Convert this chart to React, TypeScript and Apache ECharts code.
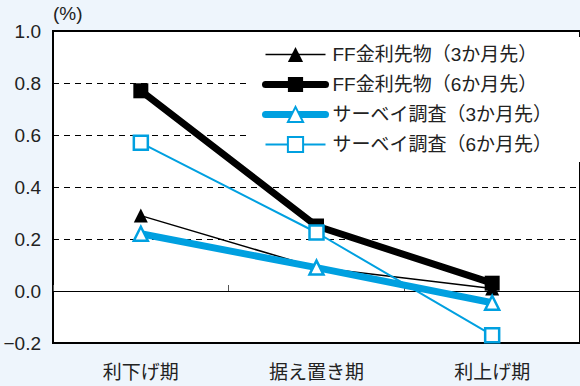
import React, { useEffect, useRef } from "react";
import * as echarts from "echarts";

const categories = ["利下げ期", "据え置き期", "利上げ期"];
const seriesNames = [
  "FF金利先物（3か月先）",
  "FF金利先物（6か月先）",
  "サーベイ調査（3か月先）",
  "サーベイ調査（6か月先）",
];
const ff3 = [0.29, 0.09, 0.01];
const ff6 = [0.77, 0.25, 0.03];
const survey3 = [0.22, 0.09, -0.045];
const survey6 = [0.57, 0.225, -0.17];
const yTicks = { min: -0.2, max: 1.0, interval: 0.2 };

const BLUE = "#00a0e0";
const FONT = "'Liberation Sans', 'Noto Sans CJK JP', sans-serif";

export default function App() {
  const ref = useRef<HTMLDivElement>(null);
  useEffect(() => {
    if (!ref.current) return;
    const chart = echarts.init(ref.current, null, { renderer: "svg" });
    chart.setOption({
      animation: false,
      backgroundColor: "#eef5fc",
      textStyle: { fontFamily: FONT },
      grid: {
        left: 53,
        top: 31,
        right: -3,
        bottom: 43,
        show: true,
        backgroundColor: "#fff",
        borderColor: "#000",
        borderWidth: 2,
      },
      graphic: [
        {
          type: "text",
          left: 53,
          top: 4,
          style: { text: "(%)", font: `19px ${FONT}`, fill: "#222" },
        },
      ],
      legend: {
        left: 250,
        top: 37,
        orient: "vertical",
        padding: [8, 28, 8, 12],
        backgroundColor: "#fff",
        itemWidth: 60,
        itemHeight: 19,
        itemGap: 11,
        textStyle: { fontSize: 19, color: "#222", fontFamily: FONT, padding: [0, 0, 0, 2] },
        data: [
          { name: seriesNames[0], lineStyle: { width: 1.5 } },
          { name: seriesNames[1], lineStyle: { width: 7 } },
          { name: seriesNames[2], lineStyle: { width: 7 }, itemStyle: { borderWidth: 2 } },
          { name: seriesNames[3], lineStyle: { width: 2 }, itemStyle: { borderWidth: 2 } },
        ],
      },
      xAxis: [
        {
          type: "category",
          data: categories,
          boundaryGap: true,
          position: "bottom",
          axisLine: { show: false, onZero: false },
          axisTick: { show: false },
          axisLabel: { fontSize: 19, color: "#222", margin: 20, fontFamily: FONT },
        },
        {
          type: "category",
          data: categories,
          boundaryGap: true,
          position: "bottom",
          axisLine: { show: true, onZero: true, lineStyle: { color: "#000", width: 1 } },
          axisTick: { show: true, inside: true, length: 6, lineStyle: { color: "#555", width: 1 } },
          axisLabel: { show: false },
        },
      ],
      yAxis: {
        type: "value",
        min: yTicks.min,
        max: yTicks.max,
        interval: yTicks.interval,
        axisLine: { show: true, lineStyle: { color: "#000", width: 2 } },
        axisTick: { show: false },
        axisLabel: {
          fontSize: 19,
          color: "#222",
          margin: 12,
          fontFamily: FONT,
          formatter: (v: number) => {
            const s = Math.abs(v).toFixed(1);
            return v < -1e-9 ? "\u2212" + s : s;
          },
        },
        splitLine: { show: true, lineStyle: { color: "#000", width: 1, type: [6, 5] } },
      },
      series: [
        {
          name: seriesNames[0],
          type: "line",
          data: ff3,
          symbol: "triangle",
          symbolSize: 14,
          lineStyle: { color: "#000", width: 1.5 },
          itemStyle: { color: "#000" },
        },
        {
          name: seriesNames[1],
          type: "line",
          data: ff6,
          symbol: "rect",
          symbolSize: 15,
          lineStyle: { color: "#000", width: 7, cap: "round" },
          itemStyle: { color: "#000" },
        },
        {
          name: seriesNames[2],
          type: "line",
          data: survey3,
          symbol: "triangle",
          symbolSize: 14,
          lineStyle: { color: BLUE, width: 7, cap: "round" },
          itemStyle: { color: "#fff", borderColor: BLUE, borderWidth: 2.5 },
        },
        {
          name: seriesNames[3],
          type: "line",
          data: survey6,
          symbol: "rect",
          symbolSize: 14,
          lineStyle: { color: BLUE, width: 2 },
          itemStyle: { color: "#fff", borderColor: BLUE, borderWidth: 2.5 },
        },
      ],
    });
    return () => chart.dispose();
  }, []);
  return (
    <div
      ref={ref}
      style={{ position: "absolute", left: 0, top: 0, width: 580, height: 386 }}
    />
  );
}
